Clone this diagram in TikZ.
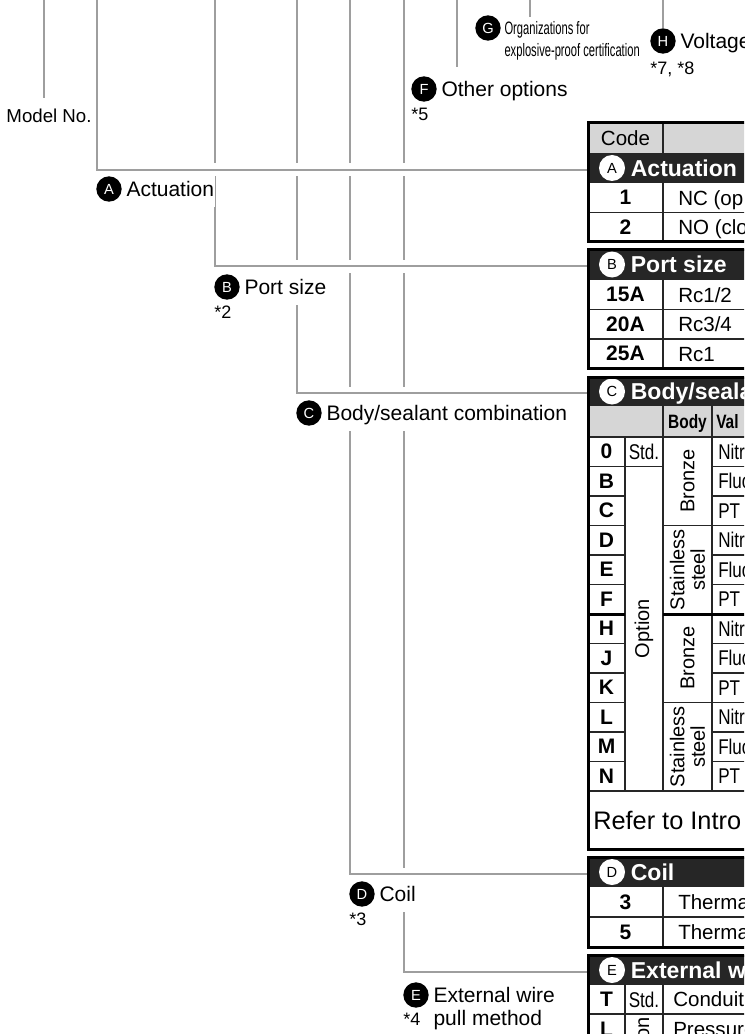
\documentclass[tikz,border=0pt]{standalone}
\usepackage{fontspec}
\setmainfont{Liberation Sans}
\newfontfamily\condfont[FakeStretch=0.8]{Liberation Sans}
\newfontfamily\narrowfont[FakeStretch=0.62]{Liberation Sans}
\usetikzlibrary{positioning}
\definecolor{leadgray}{HTML}{9E9E9E}
\definecolor{banddark}{HTML}{262626}
\definecolor{celllight}{HTML}{D6D6D6}
\newcommand{\lblsize}{\fontsize{15.75pt}{18pt}\selectfont}
\newcommand{\notesize}{\fontsize{13.5pt}{16pt}\selectfont}
\newcommand{\hdrsize}{\fontsize{17.25pt}{20pt}\selectfont\bfseries}
\newcommand{\codesize}{\fontsize{15.75pt}{18pt}\selectfont\bfseries}
\newcommand{\cellsize}{\fontsize{15.4pt}{18pt}\selectfont}
\newcommand{\badgesize}{\fontsize{11pt}{11pt}\selectfont}

\tikzset{
  stub/.style={draw=leadgray, line width=1.5pt},
  leader/.style={stub, preaction={draw=white, line width=9.75pt}},
  badge/.style={circle, fill=black, text=white, inner sep=0pt,
    minimum size=19pt, font=\badgesize},
  hbadge/.style={circle, fill=white, text=black, inner sep=0pt,
    minimum size=19.5pt, font=\badgesize},
  lbl/.style={fill=white, inner xsep=1pt, inner ysep=5.25pt,
    text height=11.2pt, text depth=3pt, font=\lblsize, yshift=-1.5pt},
  note/.style={inner sep=0pt, font=\notesize},
  thickrule/.style={line width=2.25pt},
  thinrule/.style={line width=0.9pt, draw=black!85},
  band/.style={fill=banddark},
  hdr/.style={text=white, font=\hdrsize, anchor=west, inner sep=0pt,
    text height=12.3pt, text depth=0pt},
  code/.style={font=\codesize, inner sep=0pt},
  cell/.style={font=\cellsize, anchor=west, inner sep=0pt,
    text height=11pt, text depth=0pt},
  cond/.style={font={\condfont\fontsize{16pt}{16pt}\selectfont}, inner sep=0pt,
    text height=11.4pt, text depth=0pt},
  condbold/.style={font={\condfont\bfseries\fontsize{14.5pt}{15pt}\selectfont},
    inner sep=0pt, text height=10.4pt, text depth=0pt},
  upright/.style={rotate=90, font={\fontsize{15pt}{15.5pt}\selectfont},
    inner sep=0pt, align=center},
}

\begin{document}
\begin{tikzpicture}[x=0.75pt, y=-0.75pt]
\useasboundingbox (0,0) rectangle (744,1034);
\clip (0,0) rectangle (744,1034);

% leader tops along the upper edge
\coordinate (topM) at (44,0);
\coordinate (topA) at (97,0);
\coordinate (topB) at (215,0);
\coordinate (topC) at (297,0);
\coordinate (topD) at (350,0);
\coordinate (topE) at (404,0);
\coordinate (topF) at (457,0);
\coordinate (topG) at (530,0);
\coordinate (topH) at (663,0);
% where the leaders run into the table
\coordinate (inA) at (588,170);
\coordinate (inB) at (588,266);
\coordinate (inC) at (588,393);
\coordinate (inD) at (588,874);
\coordinate (inE) at (588,972);

% leaders, lowest first so the upper ones cut gaps
\draw[leader] (topE) |- (inE);
\draw[leader] (topD) |- (inD);
\draw[leader] (topC) |- (inC);
\draw[leader] (topB) |- (inB);
\draw[leader] (topA) |- (inA);

% labels
\node[font=\fontsize{14pt}{16pt}\selectfont, inner sep=0pt] (lblM) at (49,116) {Model No.};
\draw[stub, shorten >=8.25pt] (topM) -- (topM |- lblM.north);

\node[badge] (cA) at (109,189) {A};
\node[lbl, right=2.25pt of cA] (tA) {Actuation};

\node[badge] (cB) at (227,287) {B};
\node[lbl, right=2.25pt of cB] (tB) {Port size};
\node[note, anchor=north west, yshift=-4.5pt] (nB) at (cB.west |- cB.south) {*2};

\node[badge] (cC) at (309,413) {C};
\node[lbl, right=2.25pt of cC] (tC) {Body/sealant combination};

\node[badge] (cD) at (362,894) {D};
\node[lbl, right=2.25pt of cD] (tD) {Coil};
\node[note, anchor=north west, yshift=-4.5pt] (nD) at (cD.west |- cD.south) {*3};

\node[badge] (cE) at (416,995) {E};
\node[lbl, right=2.25pt of cE] (tE) {External wire};
\node[font=\lblsize, inner xsep=1pt, inner ysep=0pt, anchor=base west] (tE2)
  at ([yshift=-17.25pt]tE.base west) {pull method};
\node[note, anchor=base west] (nE) at (cE.west |- tE2.base) {*4};

\node[badge] (cF) at (424,89) {F};
\node[lbl, right=2.25pt of cF] (tF) {Other options};
\node[note, anchor=north west, yshift=-4.5pt] (nF) at (cF.west |- cF.south) {*5};
\draw[stub, shorten >=5.25pt] (topF) -- (topF |- tF.north);

\node[badge] (cG) at (488,28) {G};
\node[font={\narrowfont\fontsize{13.5pt}{16.5pt}\selectfont}, inner sep=0pt,
  align=left, right=2.5pt of cG, yshift=-9.75pt] (tG)
  {Organizations for\\explosive-proof certification};
\draw[stub, shorten >=3pt] (topG) -- (topG |- tG.north);

\node[badge] (cH) at (663,41) {H};
\node[lbl, right=2.25pt of cH] (tH) {Voltage};
\node[note, anchor=north west, yshift=-6pt] (nH) at (cH.west |- cH.south) {*7, *8};
\draw[stub] (topH) -- (cH.north);

% ---- code row
\fill[celllight] (588,123) rectangle (760,153);
\draw[thinrule] (663,123) -- (663,153);
\node[font=\cellsize, inner sep=0pt, text height=11pt, text depth=0pt] (code) at (625.5,138) {Code};

% ---- A actuation
\fill[band] (588,153) rectangle (760,183);
\node[hbadge] (hA) at (612,168) {A};
\node[hdr, right=4pt of hA] (hdrA) {Actuation};
\draw[thinrule] (588,212.5) -- (760,212.5) (663,183) -- (663,242);
\node[code] (a1) at (625.5,197.75) {1};
\node[code] (a2) at (625.5,227.25) {2};
\node[cell] (a1t) at (678,197.75) {NC (op};
\node[cell] (a2t) at (678,227.25) {NO (clo};
\draw[thickrule] (760,123) -- (588,123) -- (588,242) -- (760,242);

% ---- B port size
\fill[band] (588,249) rectangle (760,280);
\node[hbadge] (hB) at (612,264.5) {B};
\node[hdr, right=4pt of hB] (hdrB) {Port size};
\draw[thinrule] (588,309.5) -- (760,309.5) (588,339) -- (760,339) (663,280) -- (663,368);
\foreach \c/\t [count=\i from 0] in {15A/Rc1\slash 2, 20A/Rc3\slash 4, 25A/Rc1} {
  \node[code] (b\i) at (625.5,{294.75+29.5*\i}) {\c};
  \node[cell] (b\i t) at (678,{294.75+29.5*\i}) {\t};
}
\draw[thickrule] (760,249) -- (588,249) -- (588,368) -- (760,368);

% ---- C body/sealant
\fill[band] (588,377) rectangle (760,406);
\node[hbadge] (hC) at (612,391.5) {C};
\node[hdr, right=4pt of hC] (hdrC) {Body/sealant combination};
\fill[celllight] (588,406) rectangle (760,437);
\node[condbold] (body) at (687.5,421.5) {Body};
\node[condbold, anchor=west] (seal) at (716,421.5) {Val};
\draw[thinrule] (588,437) -- (760,437);
\foreach \y in {466.5,496,525.5,555,584.5,643.5,673,702.5,732,761.5}
  \draw[thinrule] (588,\y) -- (625,\y) (712,\y) -- (760,\y);
\draw[thinrule] (625,466.5) -- (663,466.5);
\draw[thinrule] (663,525.5) -- (712,525.5) (663,702.5) -- (712,702.5);
\draw[thinrule] (625,437) -- (625,791) (663,406) -- (663,791) (712,406) -- (712,791);
\draw[thinrule] (588,791) -- (760,791);
\draw[thickrule] (588,614) -- (625,614) (663,614) -- (760,614);
\foreach \c [count=\i from 0] in {0,B,C,D,E,F,H,J,K,L,M,N}
  \node[code] (code\c) at (606.5,{451.75+29.5*\i}) {\c};
\foreach \s [count=\i from 0] in {Nitr,Fluo,PT,Nitr,Fluo,PT,Nitr,Fluo,PT,Nitr,Fluo,PT}
  \node[cond, anchor=west] (seal\i) at (718,{451.75+29.5*\i}) {\s};
\node[cond] (std) at (644,451.75) {Std.};
\node[upright] (opt) at (644,628.75) {Option};
\node[upright] (bz1) at (687.5,481.25) {Bronze};
\node[upright] (ss1) at (687.5,569.75) {Stainless\\steel};
\node[upright] (bz2) at (687.5,658.25) {Bronze};
\node[upright] (ss2) at (687.5,746.75) {Stainless\\steel};
\node[font=\fontsize{19pt}{22pt}\selectfont, anchor=west, inner sep=0pt] (refer)
  at (593,820) {Refer to Intro};
\draw[thickrule] (760,377) -- (588,377) -- (588,849) -- (760,849);

% ---- D coil
\fill[band] (588,857) rectangle (760,887);
\node[hbadge] (hD) at (612,872) {D};
\node[hdr, right=4pt of hD] (hdrD) {Coil};
\draw[thinrule] (588,917) -- (760,917) (663,887) -- (663,947);
\node[code] (d3) at (625.5,902) {3};
\node[code] (d5) at (625.5,932) {5};
\node[cell] (d3t) at (678,902) {Therma};
\node[cell] (d5t) at (678,932) {Therma};
\draw[thickrule] (760,857) -- (588,857) -- (588,947) -- (760,947);

% ---- E external wire
\fill[band] (588,955) rectangle (760,985);
\node[hbadge] (hE) at (612,970) {E};
\node[hdr, right=4pt of hE] (hdrE) {External wire pull method};
\draw[thinrule] (588,1014) -- (760,1014) (625,985) -- (625,1050) (663,985) -- (663,1050);
\node[code] (eT) at (606.5,999.5) {T};
\node[cond] (eStd) at (644,999.5) {Std.};
\node[cell, anchor=west] (eTt) at (673,999.5) {Conduit};
\node[code] (eL) at (606.5,1029) {L};
\node[upright, anchor=east] (eOpt) at (644,1017) {Option};
\node[cell, anchor=west] (eLt) at (673,1029) {Pressure};
\draw[thickrule] (760,955) -- (588,955) -- (588,1050);
\end{tikzpicture}
\end{document}
